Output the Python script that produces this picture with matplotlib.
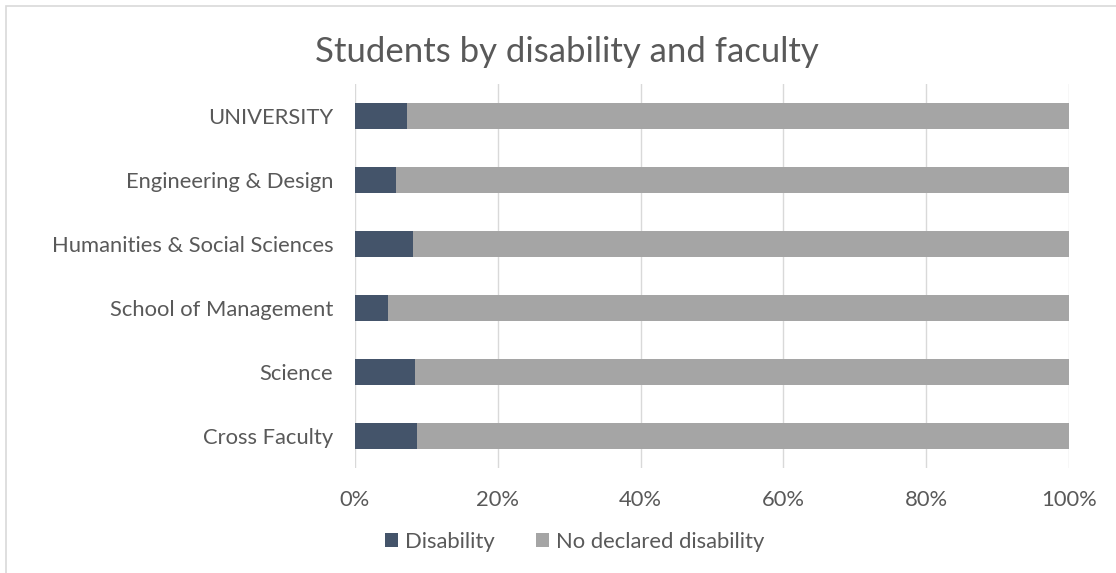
import matplotlib
matplotlib.use("Agg")
import matplotlib.pyplot as plt
from matplotlib.patches import Rectangle
from matplotlib.ticker import PercentFormatter

# data (in percent)
faculties = ["UNIVERSITY", "Engineering & Design", "Humanities & Social Sciences",
             "School of Management", "Science", "Cross Faculty"]
disability = [7.3, 5.8, 8.1, 4.6, 8.4, 8.7]
no_disability = [100 - v for v in disability]

dark = "#44546A"
grey = "#A5A5A5"
text_col = "#595959"

plt.rcParams["font.family"] = ["Lato", "DejaVu Sans"]

fig = plt.figure(figsize=(11.16, 5.73), dpi=100)
ax = fig.add_axes([0.318, 0.183, 0.640, 0.670])

# chart frame
fig.patches.append(Rectangle((0.005, -0.02), 1.1, 1.01, transform=fig.transFigure,
                             fill=False, edgecolor="#D9D9D9", linewidth=1.2))

y = list(range(len(faculties)))[::-1]
ax.barh(y, disability, height=0.4, color=dark, label="Disability", zorder=3)
ax.barh(y, no_disability, left=disability, height=0.4, color=grey,
        label="No declared disability", zorder=3)

ax.set_xlim(0, 100)
ax.set_ylim(-0.5, len(faculties) - 0.5)
ax.set_yticks(y)
ax.set_yticklabels(faculties)
ax.set_xticks(range(0, 101, 20))
ax.xaxis.set_major_formatter(PercentFormatter(decimals=0))
ax.tick_params(axis="both", length=0, labelsize=15.8, colors=text_col)
ax.tick_params(axis="x", pad=16)
ax.tick_params(axis="y", pad=15.5)
ax.grid(axis="x", color="#D9D9D9", linewidth=1, zorder=0)
for s in ax.spines.values():
    s.set_visible(False)

fig.suptitle("Students by disability and faculty", y=0.91, x=0.508, va="center",
             fontsize=25, color=text_col)

fig.legend(*ax.get_legend_handles_labels(), loc="center", bbox_to_anchor=(0.515, 0.054),
           ncol=2, frameon=False, fontsize=15.8, labelcolor=text_col,
           handlelength=0.6, handleheight=0.6, handletextpad=0.3, columnspacing=1.9)

fig.savefig("out.png", dpi=100)
